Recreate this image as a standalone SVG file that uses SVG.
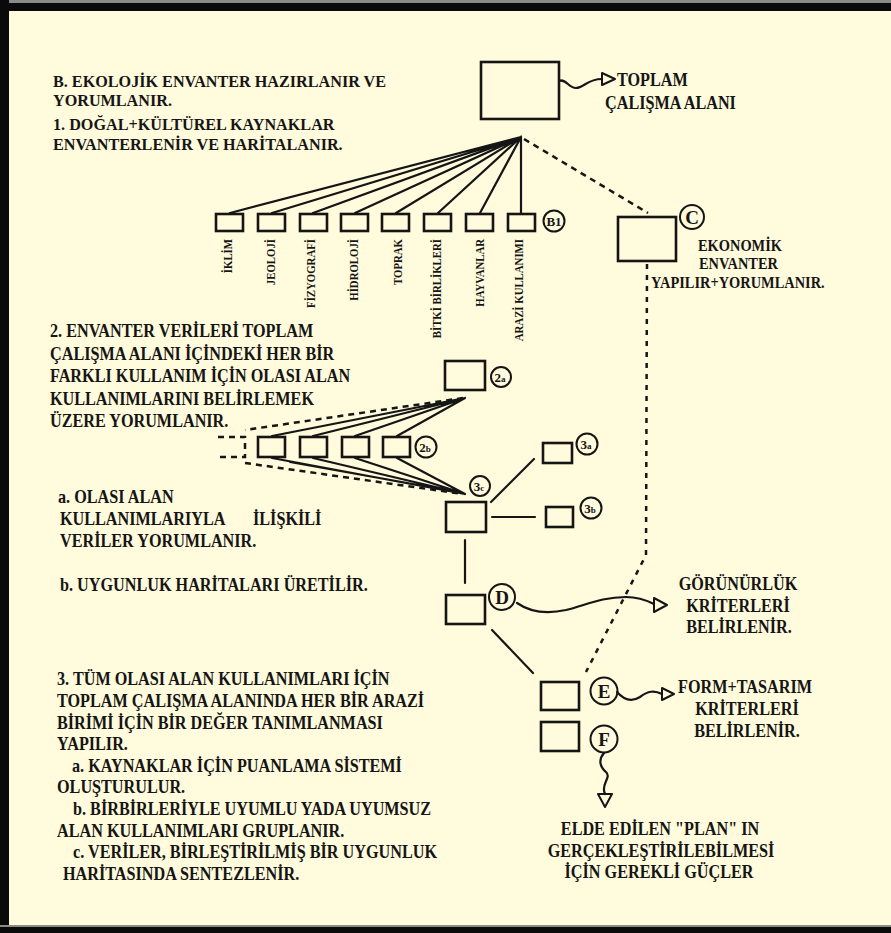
<svg xmlns="http://www.w3.org/2000/svg" width="891" height="933" viewBox="0 0 891 933">
<style>
.t{font-family:"Liberation Serif","DejaVu Serif",serif;font-weight:bold;font-size:18px;fill:#151515}
.h{font-size:16.5px}
.s{font-size:16px}
.v{font-size:12px}
.m{text-anchor:middle}
.e{text-anchor:end}
.c{font-family:"Liberation Serif","DejaVu Serif",serif;font-weight:bold;fill:#151515;text-anchor:middle}
.box{fill:none;stroke:#151515;stroke-width:2.6}
.ln{fill:none;stroke:#151515;stroke-width:2.2;stroke-linecap:round}
.dash{fill:none;stroke:#151515;stroke-width:2.5;stroke-dasharray:6 5}
.dot{fill:none;stroke:#151515;stroke-width:2.5;stroke-dasharray:5 6}
.ring{fill:none;stroke:#151515;stroke-width:2}
.ah{fill:none;stroke:#151515;stroke-width:2;stroke-linejoin:round}
</style>
<rect x="0" y="0" width="891" height="933" fill="#FFFBDC"/>
<rect x="0" y="0" width="891" height="3" fill="#8a8a86"/>
<rect x="0" y="3" width="891" height="8" fill="#0a0a0a"/>
<rect x="0" y="0" width="9" height="933" fill="#0a0a0a"/>
<rect x="0" y="925" width="891" height="2" fill="#8a8a86"/>
<rect x="0" y="927" width="891" height="6" fill="#0a0a0a"/>

<g id="text-B">
<text class="t h" transform="translate(53,87) scale(0.98,1)">B. EKOLOJİK ENVANTER HAZIRLANIR VE</text>
<text class="t h" transform="translate(53,106) scale(0.98,1)">YORUMLANIR.</text>
<text class="t h" transform="translate(53,130) scale(0.98,1)">1. DOĞAL+KÜLTÜREL KAYNAKLAR</text>
<text class="t h" transform="translate(53,150) scale(0.98,1)">ENVANTERLENİR VE HARİTALANIR.</text>
</g>
<g id="text-2">
<text class="t" transform="translate(50,337) scale(0.9,1)">2. ENVANTER VERİLERİ TOPLAM</text>
<text class="t" transform="translate(50,360) scale(0.9,1)">ÇALIŞMA ALANI İÇİNDEKİ HER BİR</text>
<text class="t" transform="translate(50,382) scale(0.9,1)">FARKLI KULLANIM İÇİN OLASI ALAN</text>
<text class="t" transform="translate(50,405) scale(0.9,1)">KULLANIMLARINI BELİRLEMEK</text>
<text class="t" transform="translate(50,427) scale(0.9,1)">ÜZERE YORUMLANIR.</text>
</g>
<g id="text-ab">
<text class="t" transform="translate(58,503) scale(0.9,1)">a. OLASI ALAN</text>
<text class="t" transform="translate(60,525) scale(0.9,1)">KULLANIMLARIYLA</text>
<text class="t" transform="translate(253,525) scale(0.9,1)">İLİŞKİLİ</text>
<text class="t" transform="translate(60,547) scale(0.9,1)">VERİLER YORUMLANIR.</text>
<text class="t" transform="translate(60,591) scale(0.9,1)">b. UYGUNLUK HARİTALARI ÜRETİLİR.</text>
</g>
<g id="text-3">
<text class="t" transform="translate(57,685) scale(0.9,1)">3. TÜM OLASI ALAN KULLANIMLARI İÇİN</text>
<text class="t" transform="translate(57,707) scale(0.9,1)">TOPLAM ÇALIŞMA ALANINDA HER BİR ARAZİ</text>
<text class="t" transform="translate(57,729) scale(0.9,1)">BİRİMİ İÇİN BİR DEĞER TANIMLANMASI</text>
<text class="t" transform="translate(57,750) scale(0.9,1)">YAPILIR.</text>
<text class="t" transform="translate(72,772) scale(0.9,1)">a. KAYNAKLAR İÇİN PUANLAMA SİSTEMİ</text>
<text class="t" transform="translate(57,793) scale(0.9,1)">OLUŞTURULUR.</text>
<text class="t" transform="translate(73,815) scale(0.9,1)">b. BİRBİRLERİYLE UYUMLU YADA UYUMSUZ</text>
<text class="t" transform="translate(57,837) scale(0.9,1)">ALAN KULLANIMLARI GRUPLANIR.</text>
<text class="t" transform="translate(73,858) scale(0.9,1)">c. VERİLER, BİRLEŞTİRİLMİŞ BİR UYGUNLUK</text>
<text class="t" transform="translate(63,880) scale(0.9,1)">HARİTASINDA SENTEZLENİR.</text>
</g>

<g id="connectors">
<path class="ln" d="M521,137 L230,213 M521,137 L272,213 M521,137 L313,213 M521,137 L355,213 M521,137 L396,213 M521,137 L438,213 M521,137 L480,213 M521,137 L521,213"/>
<path class="dash" d="M524,139 L648,213"/>
<path class="dot" d="M647,264 L646,555 L586,672"/>
<path class="ln" d="M465,398 L272,436 M465,398 L313,436 M465,398 L355,436 M465,398 L397,436"/>
<path class="dash" d="M463,398 L245,430"/>
<path class="dash" d="M218,437 H245 V457 H218"/>
<path class="dash" d="M245,463 L463,494"/>
<path class="ln" d="M272,458 L465,494 M313,458 L465,494 M355,458 L465,494 M397,458 L465,494 M290,462 L463,493"/>
<path class="ln" d="M491,502 L534,459"/>
<path class="ln" d="M492,517 L535,517"/>
<path class="ln" d="M465,540 L465,583"/>
<path class="ln" d="M492,630 L533,673"/>
<path class="ln" d="M559,81 C566,78 568,88 576,88 C584,88 587,79 602,79"/>
<path class="ah" d="M602,73 L615,79 L602,85 Z"/>
<path class="ln" d="M517,603 C530,612 548,614 566,610 C586,605 602,597 626,597 C640,597 648,601 654,604"/>
<path class="ah" d="M654,598 L667,605 L654,612 Z"/>
<path class="ln" d="M617,692 C624,700 632,702 640,697 C648,691 654,690 662,694"/>
<path class="ah" d="M662,688 L674,694 L662,700 Z"/>
<path class="ln" d="M604,753 C598,760 600,767 606,772 C612,778 600,784 605,794"/>
<path class="ah" d="M598,794 L605,807 L612,794 Z"/>
</g>

<g id="node-toplam">
<rect class="box" x="481" y="62" width="78" height="57"/>
<text class="t" transform="translate(617,86) scale(0.9,1)">TOPLAM</text>
<text class="t" transform="translate(605,109) scale(0.9,1)">ÇALIŞMA ALANI</text>
</g>
<g id="node-b1">
<rect class="box" x="216" y="214" width="27" height="17"/>
<rect class="box" x="258" y="214" width="27" height="17"/>
<rect class="box" x="300" y="214" width="27" height="17"/>
<rect class="box" x="341" y="214" width="27" height="17"/>
<rect class="box" x="382" y="214" width="27" height="17"/>
<rect class="box" x="424" y="214" width="27" height="17"/>
<rect class="box" x="466" y="214" width="27" height="17"/>
<rect class="box" x="508" y="214" width="27" height="17"/>
<text class="t v e" transform="translate(232,239) rotate(-90) scale(0.9,1)">İKLİM</text>
<text class="t v e" transform="translate(275,239) rotate(-90) scale(0.9,1)">JEOLOJİ</text>
<text class="t v e" transform="translate(315,239) rotate(-90) scale(0.9,1)">FİZYOGRAFİ</text>
<text class="t v e" transform="translate(358,239) rotate(-90) scale(0.9,1)">HİDROLOJİ</text>
<text class="t v e" transform="translate(402,239) rotate(-90) scale(0.9,1)">TOPRAK</text>
<text class="t v e" transform="translate(441,239) rotate(-90) scale(0.9,1)">BİTKİ BİRLİKLERİ</text>
<text class="t v e" transform="translate(484,239) rotate(-90) scale(0.9,1)">HAYVANLAR</text>
<text class="t v e" transform="translate(523,239) rotate(-90) scale(0.9,1)">ARAZİ KULLANIMI</text>
<circle class="ring" cx="554" cy="221" r="10.5"/>
<text class="c" x="554" y="226" font-size="13">B1</text>
</g>
<g id="node-c">
<rect class="box" x="618" y="217" width="58" height="44"/>
<circle class="ring" cx="692" cy="217" r="12"/>
<text class="c" x="692" y="224" font-size="19">C</text>
<text class="t s" transform="translate(698,251) scale(0.9,1)">EKONOMİK</text>
<text class="t s" transform="translate(699,269) scale(0.9,1)">ENVANTER</text>
<text class="t s" transform="translate(651,288) scale(0.9,1)">YAPILIR+YORUMLANIR.</text>
</g>
<g id="node-2a">
<rect class="box" x="445" y="361" width="40" height="29"/>
<circle class="ring" cx="501" cy="377" r="10"/>
<text class="c" x="500" y="382" font-size="13">2<tspan font-size="9">a</tspan></text>
</g>
<g id="node-2b">
<rect class="box" x="258" y="437" width="27" height="20"/>
<rect class="box" x="300" y="437" width="27" height="20"/>
<rect class="box" x="342" y="437" width="27" height="20"/>
<rect class="box" x="383" y="437" width="27" height="20"/>
<circle class="ring" cx="426" cy="447" r="10.5"/>
<text class="c" x="425" y="452" font-size="13">2<tspan font-size="9">b</tspan></text>
</g>
<g id="node-3c">
<rect class="box" x="446" y="502" width="40" height="30"/>
<circle class="ring" cx="480" cy="486" r="10"/>
<text class="c" x="479" y="491" font-size="13">3<tspan font-size="9">c</tspan></text>
</g>
<g id="node-3a">
<rect class="box" x="543" y="443" width="29" height="20"/>
<circle class="ring" cx="587" cy="444" r="10.5"/>
<text class="c" x="586" y="449" font-size="13">3<tspan font-size="9">a</tspan></text>
</g>
<g id="node-3b">
<rect class="box" x="546" y="507" width="27" height="20"/>
<circle class="ring" cx="591" cy="508" r="10.5"/>
<text class="c" x="590" y="513" font-size="13">3<tspan font-size="9">b</tspan></text>
</g>
<g id="node-d">
<rect class="box" x="446" y="595" width="39" height="29"/>
<circle class="ring" cx="502" cy="597" r="13"/>
<text class="c" x="502" y="604" font-size="19">D</text>
<text class="t m" transform="translate(738,590) scale(0.9,1)">GÖRÜNÜRLÜK</text>
<text class="t m" transform="translate(738,612) scale(0.9,1)">KRİTERLERİ</text>
<text class="t m" transform="translate(739,633) scale(0.9,1)">BELİRLENİR.</text>
</g>
<g id="node-e">
<rect class="box" x="541" y="682" width="38" height="28"/>
<circle class="ring" cx="604" cy="691" r="13.5"/>
<text class="c" x="604" y="698" font-size="19">E</text>
<text class="t m" transform="translate(745,693) scale(0.9,1)">FORM+TASARIM</text>
<text class="t m" transform="translate(747,715) scale(0.9,1)">KRİTERLERİ</text>
<text class="t m" transform="translate(747,737) scale(0.9,1)">BELİRLENİR.</text>
</g>
<g id="node-f">
<rect class="box" x="541" y="722" width="38" height="29"/>
<circle class="ring" cx="604" cy="739" r="13.5"/>
<text class="c" x="604" y="746" font-size="19">F</text>
<text class="t m" transform="translate(660,835) scale(0.9,1)">ELDE EDİLEN "PLAN" IN</text>
<text class="t m" transform="translate(661,857) scale(0.9,1)">GERÇEKLEŞTİRİLEBİLMESİ</text>
<text class="t m" transform="translate(659,878) scale(0.9,1)">İÇİN GEREKLİ GÜÇLER</text>
</g>
</svg>
